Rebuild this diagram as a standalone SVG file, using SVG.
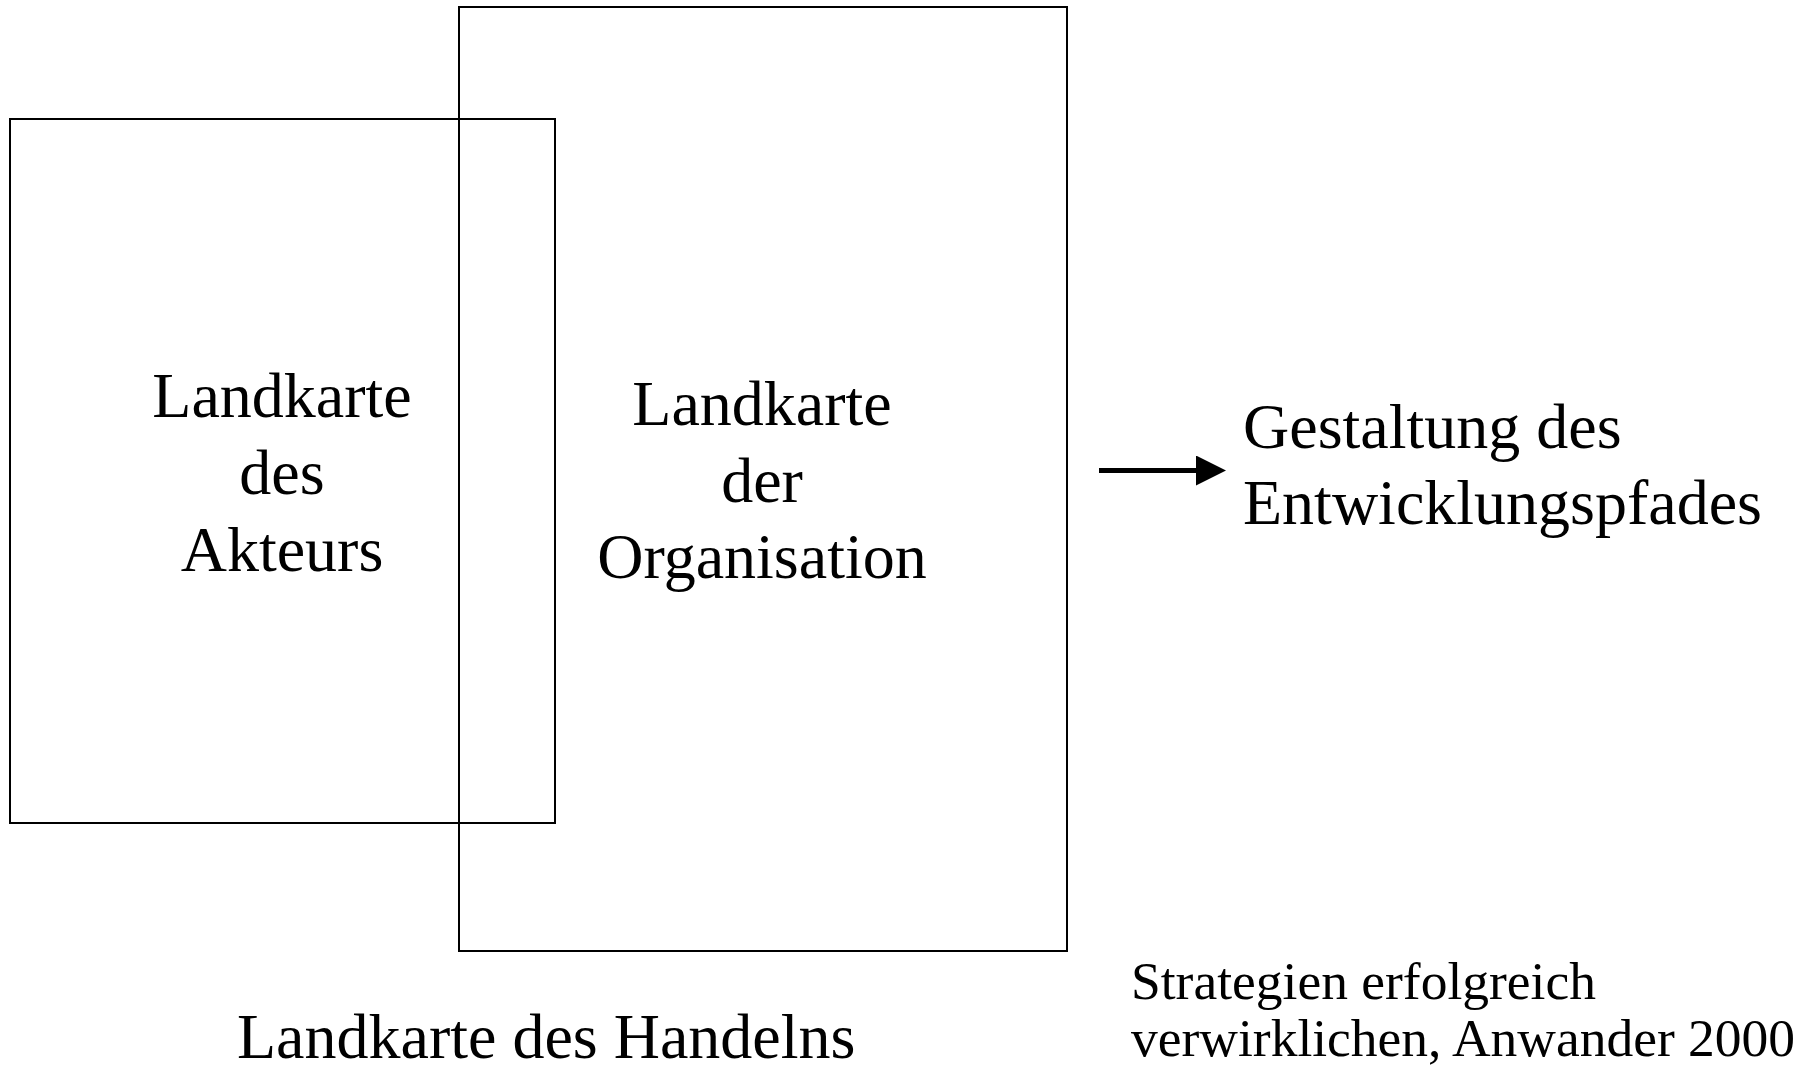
<svg xmlns="http://www.w3.org/2000/svg" width="1808" height="1067" viewBox="0 0 1808 1067">
<style>
.box{fill:none;stroke:#000;stroke-width:2}
.t{font-family:"Liberation Serif","Times New Roman",serif;font-size:64px;fill:#000}
.c{text-anchor:middle}
.s{font-family:"Liberation Serif","Times New Roman",serif;font-size:53.5px;fill:#000}
</style>
<defs>
<marker id="ah" markerWidth="6" markerHeight="6" refX="0" refY="3" orient="auto" markerUnits="strokeWidth" viewBox="0 0 6 6">
<path d="M0,0 L6,3 L0,6 Z" fill="#000"/>
</marker>
</defs>
<rect width="1808" height="1067" fill="#fff"/>
<g id="akteur">
<rect class="box" x="10" y="119" width="545" height="704"/>
<text class="t c" x="282" y="417">Landkarte</text>
<text class="t c" x="282" y="494">des</text>
<text class="t c" x="282" y="571">Akteurs</text>
</g>
<g id="organisation">
<rect class="box" x="459" y="7" width="608" height="944"/>
<text class="t c" x="762" y="425">Landkarte</text>
<text class="t c" x="762" y="502">der</text>
<text class="t c" x="762" y="578">Organisation</text>
</g>
<g id="connectors">
<line x1="1099" y1="470.5" x2="1196" y2="470.5" stroke="#000" stroke-width="5" marker-end="url(#ah)"/>
</g>
<g id="gestaltung">
<text class="t" x="1243" y="448">Gestaltung des</text>
<text class="t" x="1243" y="524">Entwicklungspfades</text>
</g>
<g id="handeln">
<text class="t" x="237" y="1058">Landkarte des Handelns</text>
</g>
<g id="quelle">
<text class="s" x="1131" y="999">Strategien erfolgreich</text>
<text class="s" x="1131" y="1056">verwirklichen, Anwander 2000</text>
</g>
</svg>
